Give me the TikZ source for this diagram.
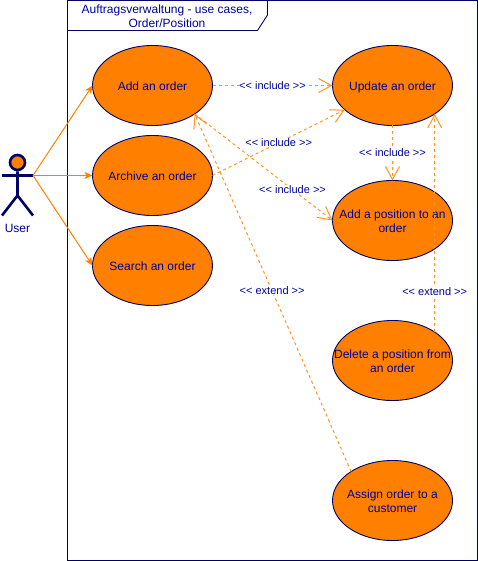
\documentclass[tikz,border=0pt]{standalone}
\usepackage{fontspec}
\setmainfont{Liberation Sans}
\usetikzlibrary{shapes.geometric,arrows.meta,calc}
\definecolor{nv}{HTML}{000066}
\definecolor{og}{HTML}{FF8000}
\definecolor{tx}{HTML}{000099}
\newsavebox{\ucbox}
\newcommand{\uct}[1]{\sbox{\ucbox}{\begin{tabular}{@{}c@{}}#1\end{tabular}}\makebox[0pt]{\raisebox{\dimexpr -0.5\ht\ucbox+0.5\dp\ucbox-1.9pt\relax}[0pt][0pt]{\usebox{\ucbox}}}}
\tikzset{
 uc/.style={ellipse,draw=nv,fill=og,line width=0.9pt,minimum width=120pt,minimum height=80pt,inner sep=0pt,outer sep=0pt,text=tx,font=\fontsize{12}{14}\selectfont},
 assoc/.style={draw=og,line width=1pt,-{Stealth[length=8pt,width=7pt,inset=2pt]}},
 dep/.style={draw=og!85!white,line width=1pt,dash pattern=on 3pt off 3pt,-{Straight Barb[length=13pt,width=14pt,line width=1pt]}},
 lab/.style={fill=white,inner sep=0.5pt,text=tx,font=\fontsize{11}{13}\selectfont},
 act/.style={draw=nv,line width=2.6pt},
}
\begin{document}
\begin{tikzpicture}[x=1pt,y=-1pt]
\useasboundingbox (0,0) rectangle (478,561);
\draw[nv,line width=0.9pt] (67.5,0.5) rectangle (477.5,560.5);
\draw[nv,line width=0.9pt] (67.5,30.5) -- (257.5,30.5) -- (267.5,15) -- (267.5,0.5);
\node[text=tx,font=\fontsize{12}{14}\selectfont,align=center,inner sep=0pt] (title) at (167,16) {Auftragsverwaltung - use cases,\\Order/Position};
\node[uc] (add) at (152.5,85.5) {\uct{Add an order}};
\node[uc] (arch) at (152.5,175.5) {\uct{Archive an order}};
\node[uc] (search) at (152.5,265.5) {\uct{Search an order}};
\node[uc] (upd) at (392.5,85.5) {\uct{Update an order}};
\node[uc] (pos) at (392.5,220.5) {\uct{Add a position to an\\order}};
\node[uc] (del) at (392.5,360.5) {\uct{Delete a position from\\an order}};
\node[uc] (cust) at (392.5,500.5) {\uct{Assign order to a\\customer}};
% actor
\node[circle,draw=nv,fill=og,line width=2.6pt,minimum size=15pt,inner sep=0pt] (head) at (17.5,162.5) {};
\coordinate (hand) at (33,175.5);
\coordinate (lhand) at (2,175.5);
\coordinate (hip) at (17.5,195.5);
\coordinate (lf) at (2,215.5);
\coordinate (rf) at (33,215.5);
\draw[act] (head) -- (hip) (lhand) -- (hand) (lf) -- (hip) -- (rf);
\node[text=tx,font=\fontsize{12}{14}\selectfont,inner sep=0pt] (user) at (17.5,228.5) {User};
% associations
\draw[assoc] (hand) -- (add.west);
\draw[assoc] (hand) -- (arch.west);
\draw[assoc] (hand) -- (search.west);
% dependencies
\draw[dep] (add.east) -- node[lab,pos=0.5] {<{}< include >{}>} (upd.west);
\draw[dep] (arch.east) -- node[lab,pos=0.5] {<{}< include >{}>} (upd.-153);
\draw[dep] (add.-34) -- node[lab,pos=0.71] {<{}< include >{}>} (pos.west);
\draw[dep] (upd.south) -- node[lab] {<{}< include >{}>} (pos.north);
\draw[dep] (del.34.2) -- node[lab,pos=0.186] {<{}< extend >{}>} (upd.-34.2);
\draw[dep] (cust.145) -- node[lab,pos=0.505] {<{}< extend >{}>} (add.-34);
\end{tikzpicture}
\end{document}
